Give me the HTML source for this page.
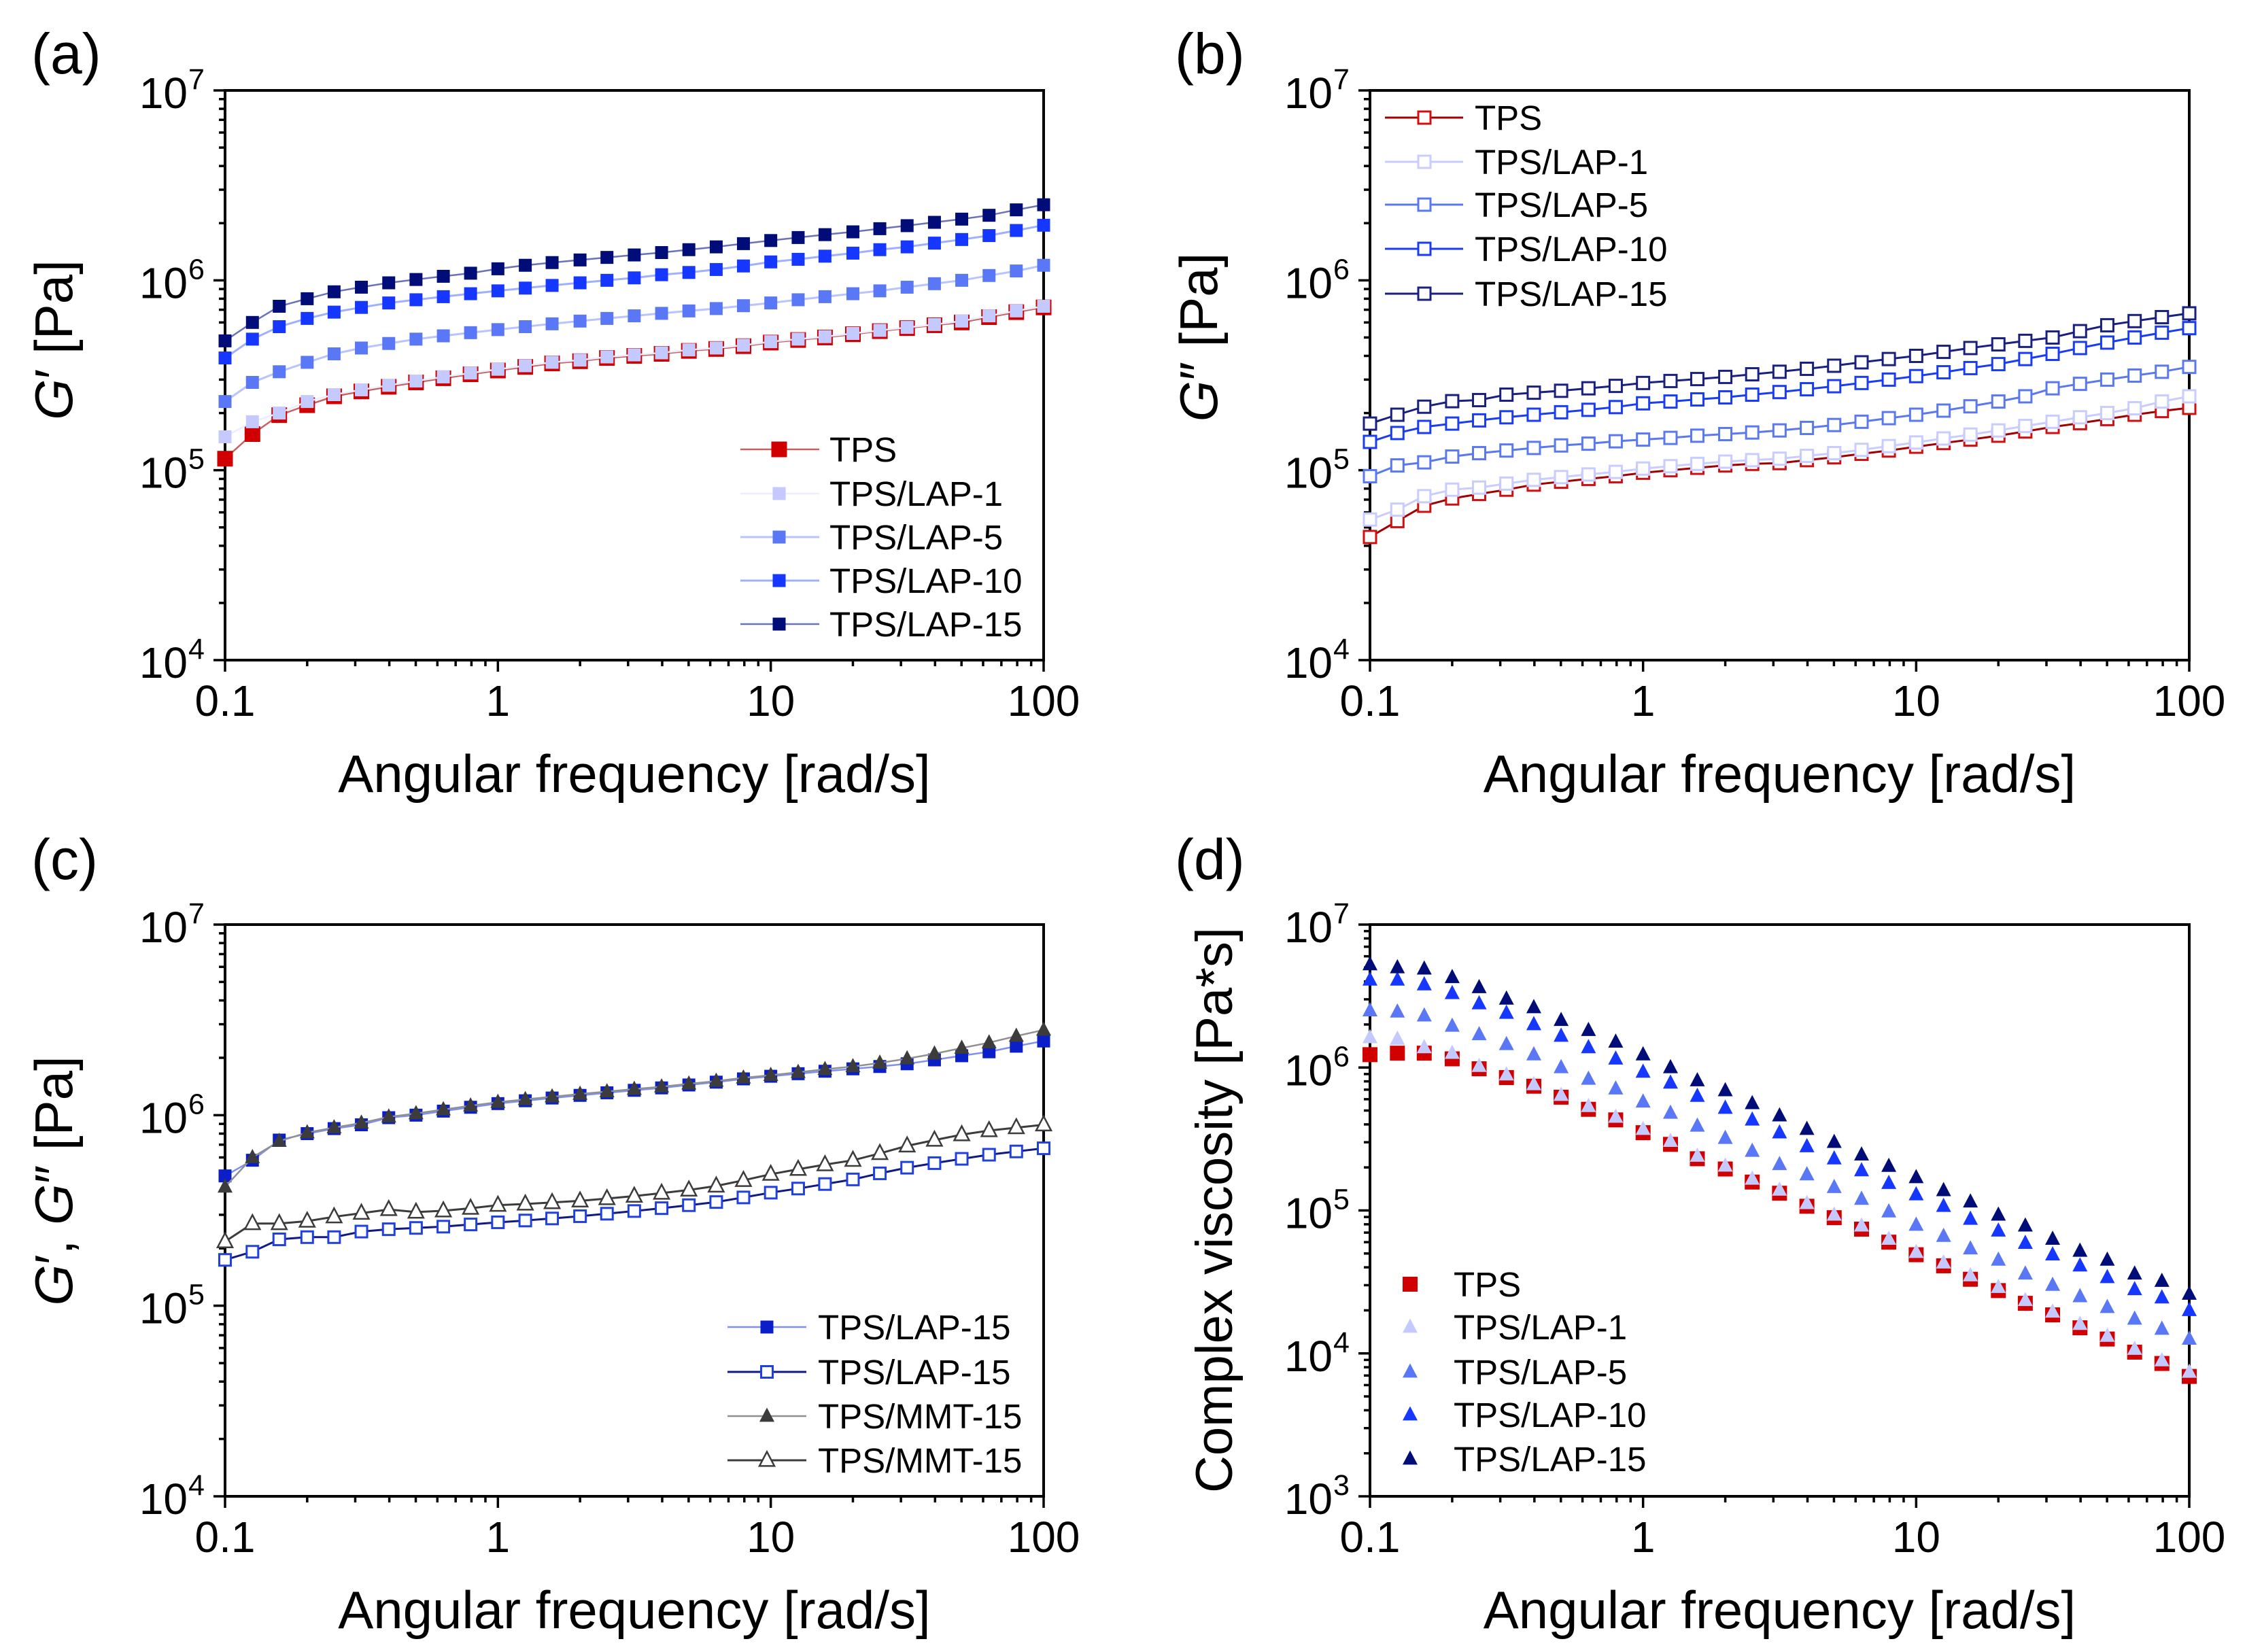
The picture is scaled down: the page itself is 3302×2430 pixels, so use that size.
<!DOCTYPE html>
<html><head><meta charset="utf-8"><style>
html,body{margin:0;padding:0;background:#fff;}
svg{display:block;font-family:"Liberation Sans",Arial,sans-serif;}
</style></head><body>
<svg id="fig" width="3302" height="2430" viewBox="0 0 3302 2430" xmlns="http://www.w3.org/2000/svg"></svg>
<script>
// ---- data (x: 31 log-spaced angular frequencies 0.1..100 rad/s) ----
const omega = [0.1,0.126,0.158,0.2,0.251,0.316,0.398,0.501,0.631,0.794,1,1.26,1.58,2,2.51,3.16,3.98,5.01,6.31,7.94,10,12.6,15.8,20,25.1,31.6,39.8,50.1,63.1,79.4,100];
const xTicks = [0.1,1,10,100];
const xTickLabels = ["0.1","1","10","100"];
// (a) G'
const aTPS   = [1.15e5,1.55e5,1.95e5,2.2e5,2.45e5,2.6e5,2.75e5,2.9e5,3.05e5,3.2e5,3.35e5,3.5e5,3.65e5,3.75e5,3.9e5,4.0e5,4.1e5,4.25e5,4.35e5,4.5e5,4.7e5,4.85e5,5.0e5,5.2e5,5.4e5,5.6e5,5.8e5,6.0e5,6.4e5,6.8e5,7.2e5];
const aLAP1  = [1.5e5,1.8e5,2.0e5,2.3e5,2.5e5,2.65e5,2.8e5,2.95e5,3.1e5,3.25e5,3.4e5,3.55e5,3.7e5,3.8e5,3.95e5,4.05e5,4.15e5,4.3e5,4.4e5,4.55e5,4.75e5,4.9e5,5.05e5,5.25e5,5.45e5,5.65e5,5.85e5,6.1e5,6.5e5,6.9e5,7.3e5];
const aLAP5  = [2.3e5,2.9e5,3.3e5,3.7e5,4.1e5,4.4e5,4.65e5,4.9e5,5.1e5,5.3e5,5.5e5,5.7e5,5.9e5,6.1e5,6.3e5,6.5e5,6.7e5,6.9e5,7.1e5,7.35e5,7.6e5,7.9e5,8.2e5,8.5e5,8.8e5,9.2e5,9.6e5,1.0e6,1.06e6,1.12e6,1.2e6];
const aLAP10 = [3.9e5,4.9e5,5.7e5,6.3e5,6.8e5,7.2e5,7.6e5,7.9e5,8.2e5,8.5e5,8.8e5,9.1e5,9.4e5,9.7e5,1.0e6,1.03e6,1.07e6,1.1e6,1.14e6,1.19e6,1.25e6,1.29e6,1.34e6,1.39e6,1.45e6,1.5e6,1.57e6,1.64e6,1.72e6,1.83e6,1.95e6];
const aLAP15 = [4.8e5,6.0e5,7.3e5,8.0e5,8.7e5,9.2e5,9.7e5,1.01e6,1.05e6,1.09e6,1.15e6,1.2e6,1.24e6,1.28e6,1.32e6,1.36e6,1.4e6,1.45e6,1.5e6,1.56e6,1.62e6,1.68e6,1.74e6,1.8e6,1.87e6,1.94e6,2.02e6,2.1e6,2.2e6,2.35e6,2.5e6];
// (b) G''
const bTPS   = [4.45e4,5.4e4,6.5e4,7.1e4,7.5e4,7.9e4,8.4e4,8.7e4,9.0e4,9.3e4,9.7e4,1.0e5,1.03e5,1.06e5,1.08e5,1.09e5,1.13e5,1.17e5,1.22e5,1.27e5,1.33e5,1.39e5,1.45e5,1.52e5,1.6e5,1.69e5,1.77e5,1.86e5,1.96e5,2.05e5,2.13e5];
const bLAP1  = [5.5e4,6.2e4,7.3e4,7.9e4,8.1e4,8.5e4,8.9e4,9.2e4,9.5e4,9.8e4,1.02e5,1.05e5,1.08e5,1.11e5,1.13e5,1.15e5,1.19e5,1.23e5,1.28e5,1.34e5,1.4e5,1.47e5,1.54e5,1.62e5,1.71e5,1.8e5,1.9e5,2.0e5,2.12e5,2.3e5,2.45e5];
const bLAP5  = [9.3e4,1.06e5,1.1e5,1.18e5,1.23e5,1.27e5,1.31e5,1.35e5,1.38e5,1.42e5,1.45e5,1.48e5,1.52e5,1.55e5,1.58e5,1.62e5,1.67e5,1.73e5,1.8e5,1.88e5,1.96e5,2.06e5,2.17e5,2.3e5,2.45e5,2.7e5,2.85e5,3.0e5,3.15e5,3.3e5,3.5e5];
const bLAP10 = [1.41e5,1.57e5,1.69e5,1.76e5,1.83e5,1.9e5,1.96e5,2.02e5,2.08e5,2.15e5,2.25e5,2.3e5,2.36e5,2.42e5,2.5e5,2.58e5,2.67e5,2.77e5,2.88e5,3.0e5,3.13e5,3.28e5,3.45e5,3.62e5,3.85e5,4.1e5,4.4e5,4.7e5,5.0e5,5.3e5,5.6e5];
const bLAP15 = [1.76e5,1.96e5,2.16e5,2.31e5,2.34e5,2.5e5,2.56e5,2.62e5,2.7e5,2.78e5,2.88e5,2.95e5,3.02e5,3.1e5,3.2e5,3.3e5,3.42e5,3.55e5,3.7e5,3.85e5,4.0e5,4.2e5,4.4e5,4.6e5,4.8e5,5.0e5,5.4e5,5.8e5,6.1e5,6.4e5,6.7e5];
// (c) G' and G''
const cLAP15G1 = [4.8e5,5.8e5,7.4e5,8.0e5,8.5e5,8.9e5,9.7e5,1.0e6,1.05e6,1.1e6,1.15e6,1.19e6,1.23e6,1.27e6,1.31e6,1.35e6,1.39e6,1.44e6,1.49e6,1.55e6,1.6e6,1.65e6,1.7e6,1.75e6,1.8e6,1.86e6,1.95e6,2.05e6,2.15e6,2.3e6,2.45e6];
const cLAP15G2 = [1.74e5,1.92e5,2.23e5,2.29e5,2.29e5,2.45e5,2.52e5,2.56e5,2.6e5,2.67e5,2.74e5,2.8e5,2.87e5,2.95e5,3.04e5,3.14e5,3.25e5,3.37e5,3.5e5,3.7e5,3.92e5,4.12e5,4.35e5,4.6e5,4.95e5,5.3e5,5.6e5,5.9e5,6.2e5,6.45e5,6.7e5];
const cMMT15G1 = [4.2e5,6.0e5,7.3e5,8.1e5,8.6e5,9.1e5,9.8e5,1.02e6,1.07e6,1.12e6,1.17e6,1.21e6,1.25e6,1.29e6,1.33e6,1.37e6,1.41e6,1.46e6,1.51e6,1.57e6,1.62e6,1.68e6,1.74e6,1.8e6,1.88e6,1.98e6,2.1e6,2.25e6,2.4e6,2.6e6,2.8e6];
const cMMT15G2 = [2.17e5,2.7e5,2.7e5,2.78e5,2.93e5,3.06e5,3.2e5,3.1e5,3.15e5,3.25e5,3.37e5,3.42e5,3.48e5,3.55e5,3.65e5,3.76e5,3.9e5,4.05e5,4.25e5,4.55e5,4.9e5,5.2e5,5.5e5,5.8e5,6.3e5,6.9e5,7.4e5,7.9e5,8.3e5,8.6e5,8.9e5];
// (d) complex viscosity
const dTPS   = [1.23e6,1.26e6,1.26e6,1.15e6,9.8e5,8.5e5,7.4e5,6.2e5,5.1e5,4.3e5,3.5e5,2.9e5,2.3e5,1.95e5,1.58e5,1.32e5,1.07e5,8.9e4,7.4e4,6.0e4,4.9e4,4.1e4,3.3e4,2.75e4,2.24e4,1.86e4,1.51e4,1.26e4,1.02e4,8.5e3,6.9e3];
const dLAP1  = [1.62e6,1.58e6,1.38e6,1.26e6,1.02e6,8.9e5,7.6e5,6.4e5,5.35e5,4.5e5,3.7e5,3.05e5,2.4e5,2.05e5,1.66e5,1.39e5,1.12e5,9.3e4,7.8e4,6.3e4,5.1e4,4.3e4,3.5e4,2.9e4,2.35e4,1.95e4,1.6e4,1.32e4,1.07e4,8.9e3,7.4e3];
const dLAP5  = [2.5e6,2.45e6,2.3e6,1.95e6,1.7e6,1.45e6,1.23e6,1.0e6,8.3e5,7.1e5,5.75e5,4.8e5,3.9e5,3.2e5,2.6e5,2.1e5,1.78e5,1.45e5,1.2e5,9.8e4,7.9e4,6.6e4,5.4e4,4.5e4,3.6e4,3.0e4,2.5e4,2.1e4,1.74e4,1.48e4,1.26e4];
const dLAP10 = [4.1e6,4.1e6,3.8e6,3.3e6,2.8e6,2.4e6,2.0e6,1.66e6,1.38e6,1.15e6,9.3e5,7.8e5,6.3e5,5.2e5,4.3e5,3.5e5,2.8e5,2.3e5,1.9e5,1.55e5,1.29e5,1.07e5,8.7e4,7.2e4,5.9e4,4.9e4,4.1e4,3.4e4,2.8e4,2.45e4,2.0e4];
const dLAP15 = [5.25e6,5.0e6,4.9e6,4.27e6,3.63e6,3.02e6,2.63e6,2.14e6,1.82e6,1.51e6,1.23e6,1.0e6,8.1e5,6.9e5,5.6e5,4.6e5,3.7e5,3.0e5,2.45e5,2.04e5,1.7e5,1.38e5,1.15e5,9.3e4,7.8e4,6.3e4,5.2e4,4.5e4,3.6e4,3.2e4,2.6e4];

const NS = "http://www.w3.org/2000/svg";
const fig = document.getElementById('fig');
function mk(tag, attrs, parent){ const e=document.createElementNS(NS,tag); for(const k in attrs) e.setAttribute(k,attrs[k]); (parent||fig).appendChild(e); return e; }

function panel(cfg){
  const g = mk('g',{});
  
  
  const L=cfg.x0,R=cfg.x1,T=cfg.y0,B=cfg.y1;
  const lx0=-1,lx1=2, ly0=cfg.ymin, ly1=cfg.ymax;
  const X = v => L + (Math.log10(v)-lx0)/(lx1-lx0)*(R-L);
  const Y = v => B - (Math.log10(v)-ly0)/(ly1-ly0)*(B-T);
  const ticks = mk('g',{stroke:'#000','stroke-width':3.5},g);
  
  
  for(let d=lx0; d<=lx1; d++){
    const p=Math.pow(10,d);
    mk('line',{x1:X(p),x2:X(p),y1:B,y2:B+17},ticks);
    if(d<lx1) for(let m=2;m<=9;m++){ mk('line',{x1:X(m*p),x2:X(m*p),y1:B,y2:B+9},ticks); }
  }
  for(let d=ly0; d<=ly1; d++){
    const p=Math.pow(10,d);
    mk('line',{x1:L-17,x2:L,y1:Y(p),y2:Y(p)},ticks);
    if(d<ly1) for(let m=2;m<=9;m++){ mk('line',{x1:L-9,x2:L,y1:Y(m*p),y2:Y(m*p)},ticks); }
  }
  const fr = mk('rect',{x:L,y:T,width:R-L,height:B-T,fill:'none',stroke:'#000','stroke-width':4},g);
  
  
  xTicks.forEach((v,i)=>{
    const t=mk('text',{x:X(v),y:B+82,'font-size':64,'text-anchor':'middle',fill:'#000'},g);
    
    
    t.textContent=xTickLabels[i];
  });
  for(let d=ly0; d<=ly1; d++){
    const yy=Y(Math.pow(10,d));
    const t=mk('text',{x:L-55,y:yy+26,'font-size':64,'text-anchor':'end',fill:'#000'},g);
    
    
    t.textContent='10';
    const s=mk('text',{x:L-54,y:yy-2,'font-size':43,'text-anchor':'start',fill:'#000'},g);
    
    
    s.textContent=String(d);
  }
  const xt=mk('text',{x:(L+R)/2,y:B+194,'font-size':78,'text-anchor':'middle',fill:'#000'},g);
  
  
  xt.textContent='Angular frequency [rad/s]';
  const yt=mk('text',{x:0,y:0,'font-size':cfg.ytfs||78,'text-anchor':'middle',fill:'#000',transform:`translate(${cfg.ytx},${cfg.yty}) rotate(-90)`},g);
  
  
  yt.innerHTML=cfg.ytitle;
  const pl=mk('text',{x:cfg.plx,y:cfg.ply,'font-size':84,fill:'#000'},g);
  
  
  pl.textContent=cfg.label;
  cfg.series.forEach(s=>{
    const sg=mk('g',{},g);
    
    
    if(s.line){
      const pts=s.data.map((v,i)=>X(omega[i]).toFixed(1)+','+Y(v).toFixed(1)).join(' ');
      const pll=mk('polyline',{points:pts,fill:'none',stroke:s.line,'stroke-width':s.lw||2.5},sg);
      
      
    }
    s.data.forEach((v,i)=>{
      const m=marker(sg,s,X(omega[i]),Y(v));
      
      
    });
  });
  const lg=mk('g',{},g);
  
  
  cfg.series.forEach((s,i)=>{
    const yy=cfg.leg.y[i];
    const eg=mk('g',{},lg);
    
    
    if(s.line && cfg.leg.line){
      const ll=mk('line',{x1:cfg.leg.lx0,x2:cfg.leg.lx1,y1:yy,y2:yy,stroke:s.line,'stroke-width':s.lw||2.5},eg);
      
      
    }
    const m=marker(eg,s,cfg.leg.mx,yy);
    
    
    const t=mk('text',{x:cfg.leg.tx,y:yy+18,'font-size':51,fill:'#000'},eg);
    
    
    t.textContent=s.label;
  });
}
function marker(parent,s,x,y){
  const r=s.size/2;
  if(s.shape==='sq'){
    return mk('rect',{x:x-r,y:y-r,width:s.size,height:s.size,fill:s.fill,stroke:s.stroke||'none','stroke-width':s.sw||0},parent);
  } else {
    const h=s.size*0.95;
    return mk('polygon',{points:`${x},${y-h*0.6} ${x-r},${y+h*0.4} ${x+r},${y+h*0.4}`,fill:s.fill,stroke:s.stroke||'none','stroke-width':s.sw||0},parent);
  }
}

panel({name:'panel-a-storage-modulus',label:'(a)',plx:46,ply:108,x0:331,x1:1535,y0:133,y1:971,ymin:4,ymax:7,ytx:106,yty:500,
  ytitle:'<tspan font-style="italic">G</tspan>′ [Pa]',
  leg:{y:[661,726,790,854,918],lx0:1089,lx1:1205,mx:1146,tx:1220,line:true},
  series:[
   {key:'tps',label:'TPS',data:aTPS,shape:'sq',size:23,fill:'#d00000',line:'#c86060',lw:2.5},
   {key:'lap1',label:'TPS/LAP-1',data:aLAP1,shape:'sq',size:19,fill:'#c4c9ff',line:'#eceeff',lw:2.5},
   {key:'lap5',label:'TPS/LAP-5',data:aLAP5,shape:'sq',size:19,fill:'#5a78f5',line:'#b9c4ff',lw:3},
   {key:'lap10',label:'TPS/LAP-10',data:aLAP10,shape:'sq',size:19,fill:'#1537ff',line:'#9fb0ff',lw:3},
   {key:'lap15',label:'TPS/LAP-15',data:aLAP15,shape:'sq',size:19,fill:'#000c78',line:'#6a72b8',lw:2.5}]});

panel({name:'panel-b-loss-modulus',label:'(b)',plx:1728,ply:108,x0:2015,x1:3220,y0:133,y1:971,ymin:4,ymax:7,ytx:1790,yty:496,
  ytitle:'<tspan font-style="italic">G</tspan>″ [Pa]',
  leg:{y:[173,238,301,366,432],lx0:2037,lx1:2152,mx:2095,tx:2169,line:true},
  series:[
   {key:'tps',label:'TPS',data:bTPS,shape:'sq',size:18,fill:'#fff',stroke:'#d01010',sw:3,line:'#a00000',lw:3},
   {key:'lap1',label:'TPS/LAP-1',data:bLAP1,shape:'sq',size:18,fill:'#fff',stroke:'#c8ccff',sw:3,line:'#c8ccff',lw:3},
   {key:'lap5',label:'TPS/LAP-5',data:bLAP5,shape:'sq',size:18,fill:'#fff',stroke:'#5a78f0',sw:3,line:'#5a78f0',lw:3},
   {key:'lap10',label:'TPS/LAP-10',data:bLAP10,shape:'sq',size:18,fill:'#fff',stroke:'#1a3cf5',sw:3,line:'#1a3cf5',lw:3},
   {key:'lap15',label:'TPS/LAP-15',data:bLAP15,shape:'sq',size:18,fill:'#fff',stroke:'#1a2080',sw:3,line:'#1a2080',lw:3}]});

panel({name:'panel-c-moduli-comparison',label:'(c)',plx:46,ply:1293,x0:331,x1:1535,y0:1360,y1:2201,ymin:4,ymax:7,ytx:106,yty:1737,
  ytitle:'<tspan font-style="italic">G</tspan>′, <tspan font-style="italic">G</tspan>″ [Pa]',
  leg:{y:[1952,2018,2083,2148],lx0:1070,lx1:1186,mx:1128,tx:1203,line:true},
  series:[
   {key:'lap15-gp',label:'TPS/LAP-15',data:cLAP15G1,shape:'sq',size:19,fill:'#0a1fc8',line:'#7f90f0',lw:2.5},
   {key:'lap15-gpp',label:'TPS/LAP-15',data:cLAP15G2,shape:'sq',size:17,fill:'#fff',stroke:'#2040e0',sw:3,line:'#101a80',lw:3},
   {key:'mmt15-gp',label:'TPS/MMT-15',data:cMMT15G1,shape:'tri',size:22,fill:'#3c3c3c',line:'#909090',lw:2.5},
   {key:'mmt15-gpp',label:'TPS/MMT-15',data:cMMT15G2,shape:'tri',size:22,fill:'#fff',stroke:'#3c3c3c',sw:2.5,line:'#3c3c3c',lw:3}]});

panel({name:'panel-d-complex-viscosity',label:'(d)',plx:1728,ply:1293,x0:2015,x1:3220,y0:1360,y1:2201,ymin:3,ymax:7,ytx:1812,yty:1780,ytfs:76,
  ytitle:'Complex viscosity [Pa*s]',
  leg:{y:[1889,1952,2018,2081,2146],mx:2074,tx:2138,line:false},
  series:[
   {key:'tps',label:'TPS',data:dTPS,shape:'sq',size:22,fill:'#d00000'},
   {key:'lap1',label:'TPS/LAP-1',data:dLAP1,shape:'tri',size:22,fill:'#c4c9ff'},
   {key:'lap5',label:'TPS/LAP-5',data:dLAP5,shape:'tri',size:22,fill:'#5a78f5'},
   {key:'lap10',label:'TPS/LAP-10',data:dLAP10,shape:'tri',size:22,fill:'#1537ff'},
   {key:'lap15',label:'TPS/LAP-15',data:dLAP15,shape:'tri',size:22,fill:'#000c78'}]});
</script>
</body></html>
